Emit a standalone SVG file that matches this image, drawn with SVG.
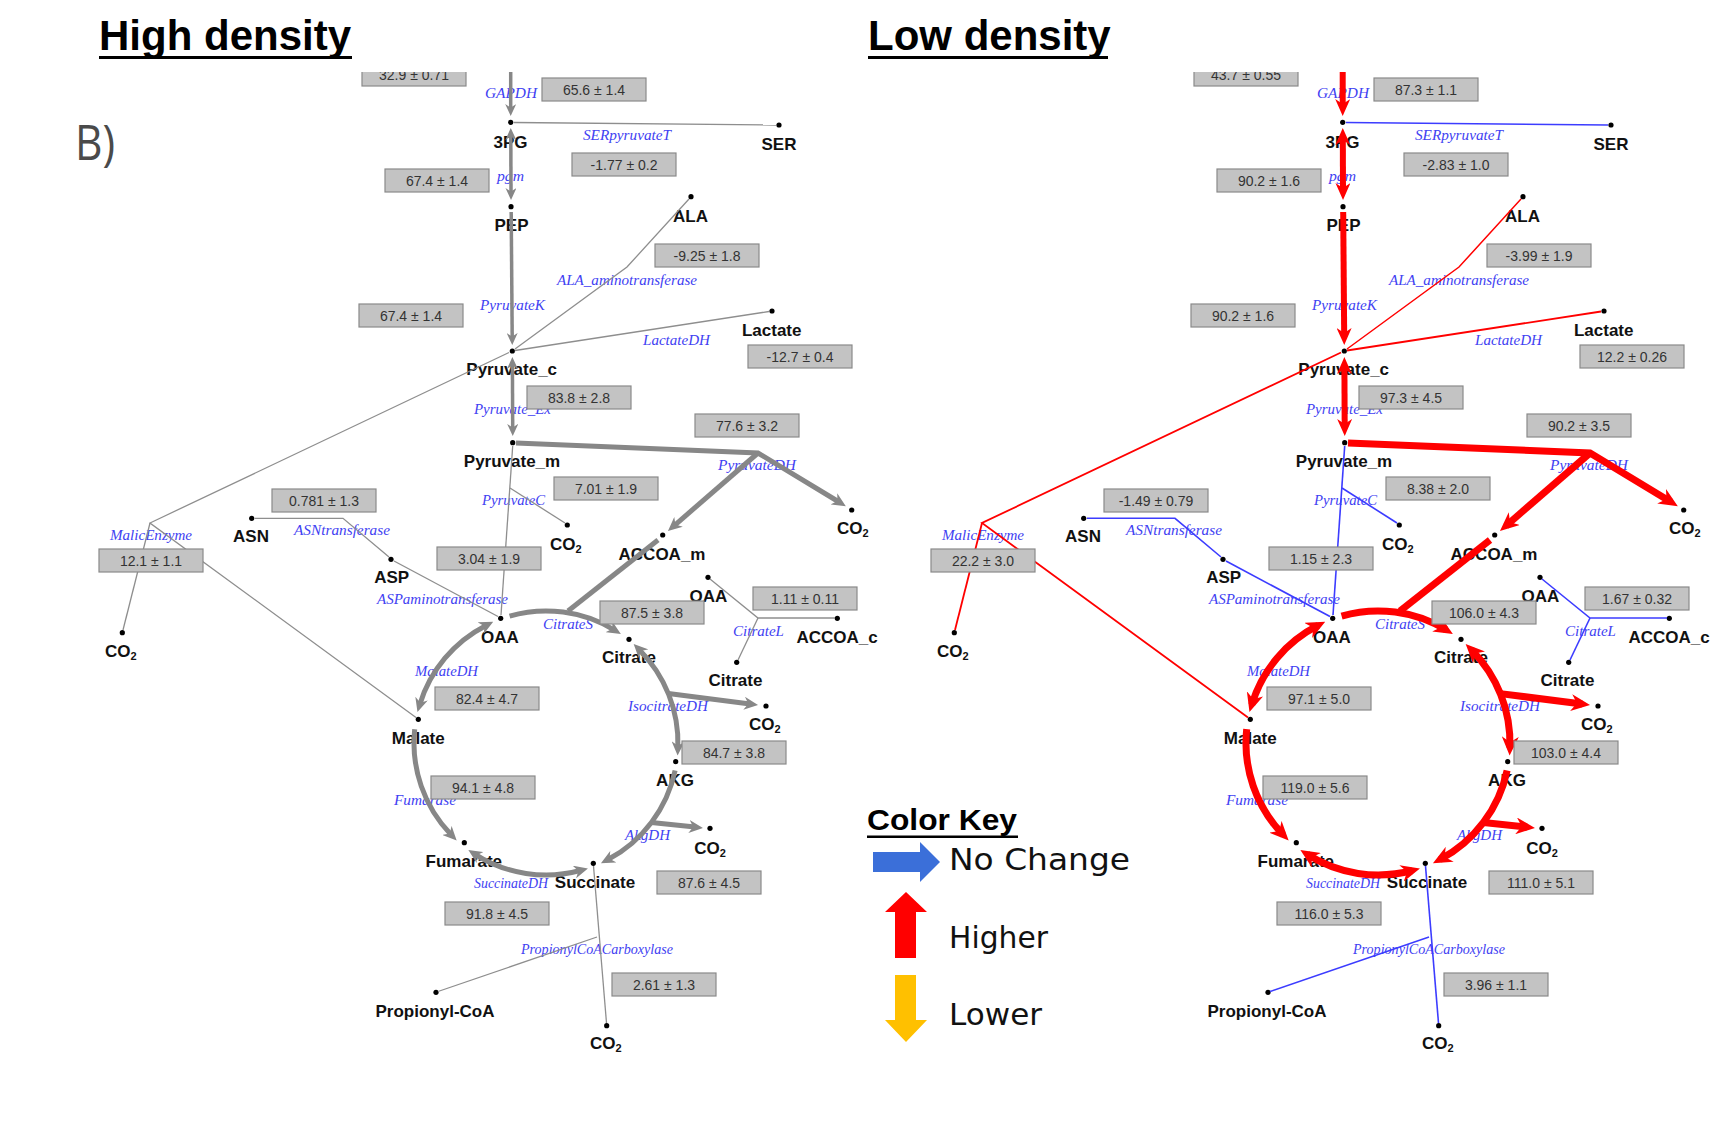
<svg xmlns="http://www.w3.org/2000/svg" width="1736" height="1130" viewBox="0 0 1736 1130">
<style>
.title{font-family:"Liberation Sans",Arial,sans-serif;font-weight:bold;font-size:42px;fill:#000}
.met{font-family:"Liberation Sans",Arial,sans-serif;font-weight:bold;font-size:17px;fill:#111;text-anchor:middle}
.co2{font-family:"Liberation Sans",Arial,sans-serif;font-weight:bold;font-size:17px;fill:#111}
.sub{font-size:11px}
.enz{font-family:"Liberation Serif","Times New Roman",serif;font-style:italic;font-size:15px;fill:#4141f2}
.vbox{fill:#c3c3c3;stroke:#8a8a8a;stroke-width:1.2}
.val{font-family:"Liberation Sans",Arial,sans-serif;font-size:14px;fill:#333;text-anchor:middle}
.dot{fill:#000}
.gk{fill:none;stroke:#878787}
.gt{fill:none;stroke:#8e8e8e;stroke-width:1.3}
.rk{fill:none;stroke:#ff0000}
.rt{fill:none;stroke:#ff0000;stroke-width:1.8}
.bt{fill:none;stroke:#3c3cff;stroke-width:1.6}
.w1{stroke-width:3.5}.w2{stroke-width:5}.w3{stroke-width:6}.w4{stroke-width:7}
.legend{font-family:"DejaVu Sans",Verdana,sans-serif;font-size:30px;fill:#111}
</style>
<defs>
<clipPath id="topclip" clipPathUnits="userSpaceOnUse"><rect x="0" y="72" width="1736" height="1058"/></clipPath>
<marker id="aG1" viewBox="0 0 10 10" markerUnits="userSpaceOnUse" markerWidth="12" markerHeight="11" refX="3.33" refY="5" orient="auto-start-reverse" preserveAspectRatio="none"><path d="M0,0 L10,5 L0,10 L3,5 z" fill="#878787"/></marker>
<marker id="aG2" viewBox="0 0 10 10" markerUnits="userSpaceOnUse" markerWidth="14" markerHeight="13" refX="4.29" refY="5" orient="auto-start-reverse" preserveAspectRatio="none"><path d="M0,0 L10,5 L0,10 L3,5 z" fill="#878787"/></marker>
<marker id="aR1" viewBox="0 0 10 10" markerUnits="userSpaceOnUse" markerWidth="17" markerHeight="15" refX="5.29" refY="5" orient="auto-start-reverse" preserveAspectRatio="none"><path d="M0,0 L10,5 L0,10 L3,5 z" fill="#ff0000"/></marker>
<marker id="aR2" viewBox="0 0 10 10" markerUnits="userSpaceOnUse" markerWidth="19" markerHeight="17" refX="5.79" refY="5" orient="auto-start-reverse" preserveAspectRatio="none"><path d="M0,0 L10,5 L0,10 L3,5 z" fill="#ff0000"/></marker>
</defs>
<rect width="1736" height="1130" fill="#fff"/>

<g id="titles">
<text class="title" x="99" y="50">High density</text>
<rect x="99" y="56" width="253" height="3" fill="#000"/>
<text class="title" x="868" y="50">Low density</text>
<rect x="868" y="56" width="240" height="3" fill="#000"/>
<text x="75" y="160" font-family="'Open Sans','Liberation Sans',sans-serif" font-size="50" fill="#4a4a4a" textLength="40" lengthAdjust="spacingAndGlyphs">B)</text>
</g>

<!-- ================= HIGH DENSITY ================= -->
<g id="high-density">
<g id="hd-enzymes">
<text class="enz" x="485" y="98" textLength="52" lengthAdjust="spacingAndGlyphs">GAPDH</text>
<text class="enz" x="583" y="140" textLength="88" lengthAdjust="spacingAndGlyphs">SERpyruvateT</text>
<text class="enz" x="497" y="181" textLength="27" lengthAdjust="spacingAndGlyphs">pgm</text>
<text class="enz" x="557" y="285" textLength="140" lengthAdjust="spacingAndGlyphs">ALA_aminotransferase</text>
<text class="enz" x="480" y="310" textLength="65" lengthAdjust="spacingAndGlyphs">PyruvateK</text>
<text class="enz" x="643" y="345" textLength="67" lengthAdjust="spacingAndGlyphs">LactateDH</text>
<text class="enz" x="474" y="414" textLength="77" lengthAdjust="spacingAndGlyphs">Pyruvate_Ex</text>
<text class="enz" x="718" y="470" textLength="78" lengthAdjust="spacingAndGlyphs">PyruvateDH</text>
<text class="enz" x="482" y="505" textLength="63" lengthAdjust="spacingAndGlyphs">PyruvateC</text>
<text class="enz" x="110" y="540" textLength="82" lengthAdjust="spacingAndGlyphs">MalicEnzyme</text>
<text class="enz" x="294" y="535" textLength="96" lengthAdjust="spacingAndGlyphs">ASNtransferase</text>
<text class="enz" x="377" y="604" textLength="131" lengthAdjust="spacingAndGlyphs">ASPaminotransferase</text>
<text class="enz" x="543" y="629" textLength="50" lengthAdjust="spacingAndGlyphs">CitrateS</text>
<text class="enz" x="733" y="636" textLength="51" lengthAdjust="spacingAndGlyphs">CitrateL</text>
<text class="enz" x="415" y="676" textLength="63" lengthAdjust="spacingAndGlyphs">MalateDH</text>
<text class="enz" x="628" y="711" textLength="80" lengthAdjust="spacingAndGlyphs">IsocitrateDH</text>
<text class="enz" x="394" y="805" textLength="62" lengthAdjust="spacingAndGlyphs">Fumarase</text>
<text class="enz" x="625" y="840" textLength="45" lengthAdjust="spacingAndGlyphs">AkgDH</text>
<text class="enz" x="474" y="888" textLength="74" lengthAdjust="spacingAndGlyphs">SuccinateDH</text>
<text class="enz" x="521" y="954" textLength="152" lengthAdjust="spacingAndGlyphs">PropionylCoACarboxylase</text>
</g>
<g id="hd-nodes">
<g id="hd-3PG"><circle class="dot" cx="510.7" cy="122.3" r="2.6"/><text class="met" x="510.5" y="147.5">3PG</text></g>
<g id="hd-SER"><circle class="dot" cx="779" cy="125" r="2.6"/><text class="met" x="779" y="149.5">SER</text></g>
<g id="hd-PEP"><circle class="dot" cx="511" cy="206.7" r="2.6"/><text class="met" x="511.5" y="230.5">PEP</text></g>
<g id="hd-ALA"><circle class="dot" cx="691" cy="196.7" r="2.6"/><text class="met" x="690.5" y="221.5">ALA</text></g>
<g id="hd-Pyruvate_c"><circle class="dot" cx="512.3" cy="351" r="2.6"/><text class="met" x="511.7" y="375">Pyruvate_c</text></g>
<g id="hd-Lactate"><circle class="dot" cx="772" cy="311" r="2.6"/><text class="met" x="771.7" y="335.5">Lactate</text></g>
<g id="hd-Pyruvate_m"><circle class="dot" cx="512.7" cy="442.7" r="2.6"/><text class="met" x="512" y="466.5">Pyruvate_m</text></g>
<g id="hd-CO2-pdh"><circle class="dot" cx="851.7" cy="510" r="2.6"/><text class="co2" x="837" y="534">CO<tspan class="sub" dy="3">2</tspan></text></g>
<g id="hd-CO2-pc"><circle class="dot" cx="567.3" cy="525" r="2.6"/><text class="co2" x="550" y="549.5">CO<tspan class="sub" dy="3">2</tspan></text></g>
<g id="hd-ACCOA_m"><circle class="dot" cx="662.7" cy="535" r="2.6"/><text class="met" x="662" y="560">ACCOA_m</text></g>
<g id="hd-OAA-c"><circle class="dot" cx="708" cy="577.3" r="2.6"/><text class="met" x="708.5" y="601.5">OAA</text></g>
<g id="hd-ACCOA_c"><circle class="dot" cx="837.3" cy="618.3" r="2.6"/><text class="met" x="837" y="643">ACCOA_c</text></g>
<g id="hd-Citrate-c"><circle class="dot" cx="736.7" cy="662.3" r="2.6"/><text class="met" x="735.5" y="686">Citrate</text></g>
<g id="hd-ASN"><circle class="dot" cx="251.7" cy="518.3" r="2.6"/><text class="met" x="251" y="541.5">ASN</text></g>
<g id="hd-ASP"><circle class="dot" cx="391" cy="559.3" r="2.6"/><text class="met" x="391.7" y="583">ASP</text></g>
<g id="hd-CO2-me"><circle class="dot" cx="122.3" cy="632.7" r="2.6"/><text class="co2" x="105" y="657">CO<tspan class="sub" dy="3">2</tspan></text></g>
<g id="hd-OAA"><circle class="dot" cx="500.7" cy="618.3" r="2.6"/><text class="met" x="500" y="643">OAA</text></g>
<g id="hd-Citrate"><circle class="dot" cx="629" cy="639.3" r="2.6"/><text class="met" x="629" y="663">Citrate</text></g>
<g id="hd-CO2-idh"><circle class="dot" cx="766" cy="706" r="2.6"/><text class="co2" x="749" y="730">CO<tspan class="sub" dy="3">2</tspan></text></g>
<g id="hd-Malate"><circle class="dot" cx="418.3" cy="719.3" r="2.6"/><text class="met" x="418.3" y="744">Malate</text></g>
<g id="hd-AKG"><circle class="dot" cx="675.7" cy="761.7" r="2.6"/><text class="met" x="675" y="786">AKG</text></g>
<g id="hd-CO2-akg"><circle class="dot" cx="710" cy="828.3" r="2.6"/><text class="co2" x="694.3" y="854">CO<tspan class="sub" dy="3">2</tspan></text></g>
<g id="hd-Fumarate"><circle class="dot" cx="464.3" cy="842.7" r="2.6"/><text class="met" x="463.8" y="866.5">Fumarate</text></g>
<g id="hd-Succinate"><circle class="dot" cx="593.3" cy="863.3" r="2.6"/><text class="met" x="595" y="888">Succinate</text></g>
<g id="hd-Propionyl-CoA"><circle class="dot" cx="436" cy="992.3" r="2.6"/><text class="met" x="435" y="1016.5">Propionyl-CoA</text></g>
<g id="hd-CO2-ppc"><circle class="dot" cx="606.7" cy="1025.7" r="2.6"/><text class="co2" x="590" y="1049">CO<tspan class="sub" dy="3">2</tspan></text></g>
</g>
<g id="hd-connectors">
<path class="gk w1" d="M510.7,72 L510.7,108" marker-end="url(#aG1)"/>
<path class="gk w1" d="M510.8,136 L511,192" marker-start="url(#aG1)" marker-end="url(#aG1)"/>
<path class="gk w1" d="M511.2,212 L512.2,337" marker-end="url(#aG1)"/>
<path class="gk w1" d="M512.4,365 L512.7,428" marker-start="url(#aG1)" marker-end="url(#aG1)"/>
<path class="gt" d="M514,122.5 L776,125"/>
<path class="gt" d="M515,349 L627,267 L689,199"/>
<path class="gt" d="M515,350.5 L769,311.5"/>
<path class="gk w2" d="M516,443 L758,453 L839,502" marker-end="url(#aG2)"/>
<path class="gk w2" d="M758,453 L674,525.8" marker-end="url(#aG2)"/>
<path class="gt" d="M512.7,446 L501,615"/>
<path class="gt" d="M510,488 L565,523"/>
<path class="gt" d="M255,518.3 L343,518.3 L389,557"/>
<path class="gt" d="M394,561 L498,616.5"/>
<path class="gt" d="M509,352.5 L150,523 L416,717.5"/>
<path class="gt" d="M150,523 L123,630"/>
<path class="gt" d="M710,579 L758,618 L835,618"/>
<path class="gt" d="M758,618 L738,660"/>
<path class="gk w2" d="M658,540 L568,611"/>
<path class="gk w2" d="M509.6,616.1 A132,132 0 0 1 614,629.8" marker-end="url(#aG2)"/>
<path class="gk w2" d="M639.3,649.7 A132,132 0 0 1 677.9,747.6" marker-start="url(#aG2)" marker-end="url(#aG2)"/>
<path class="gk w2" d="M675.1,770.4 A132,132 0 0 1 608,859.5" marker-end="url(#aG2)"/>
<path class="gk w2" d="M580.2,870.5 A132,132 0 0 1 475.1,854.3" marker-start="url(#aG2)" marker-end="url(#aG2)"/>
<path class="gk w2" d="M414.7,729.2 A132,132 0 0 0 451.1,834.7" marker-end="url(#aG2)"/>
<path class="gk w2" d="M486.1,625.4 A132,132 0 0 0 419.8,704.4" marker-start="url(#aG2)" marker-end="url(#aG2)"/>
<path class="gk w2" d="M668.4,693.6 L750.1,704" marker-end="url(#aG2)"/>
<path class="gk w2" d="M651.4,822.4 L695,827.1" marker-end="url(#aG2)"/>
<path class="gt" d="M593.5,866 L606.5,1023"/>
<path class="gt" d="M438,991.5 L597,937"/>
</g>
<g id="hd-fluxes">
<g clip-path="url(#topclip)"><rect class="vbox" x="362" y="63" width="104" height="23"/><text class="val" x="414" y="79.5">32.9 ± 0.71</text></g>
<rect class="vbox" x="542" y="78" width="104" height="23"/><text class="val" x="594" y="94.5">65.6 ± 1.4</text>
<rect class="vbox" x="572" y="153" width="104" height="23"/><text class="val" x="624" y="169.5">-1.77 ± 0.2</text>
<rect class="vbox" x="385" y="169" width="104" height="23"/><text class="val" x="437" y="185.5">67.4 ± 1.4</text>
<rect class="vbox" x="655" y="244" width="104" height="23"/><text class="val" x="707" y="260.5">-9.25 ± 1.8</text>
<rect class="vbox" x="359" y="304" width="104" height="23"/><text class="val" x="411" y="320.5">67.4 ± 1.4</text>
<rect class="vbox" x="748" y="345" width="104" height="23"/><text class="val" x="800" y="361.5">-12.7 ± 0.4</text>
<rect class="vbox" x="527" y="386" width="104" height="23"/><text class="val" x="579" y="402.5">83.8 ± 2.8</text>
<rect class="vbox" x="695" y="414" width="104" height="23"/><text class="val" x="747" y="430.5">77.6 ± 3.2</text>
<rect class="vbox" x="554" y="477" width="104" height="23"/><text class="val" x="606" y="493.5">7.01 ± 1.9</text>
<rect class="vbox" x="272" y="489" width="104" height="23"/><text class="val" x="324" y="505.5">0.781 ± 1.3</text>
<rect class="vbox" x="99" y="549" width="104" height="23"/><text class="val" x="151" y="565.5">12.1 ± 1.1</text>
<rect class="vbox" x="437" y="547" width="104" height="23"/><text class="val" x="489" y="563.5">3.04 ± 1.9</text>
<rect class="vbox" x="600" y="601" width="104" height="23"/><text class="val" x="652" y="617.5">87.5 ± 3.8</text>
<rect class="vbox" x="753" y="587" width="104" height="23"/><text class="val" x="805" y="603.5">1.11 ± 0.11</text>
<rect class="vbox" x="435" y="687" width="104" height="23"/><text class="val" x="487" y="703.5">82.4 ± 4.7</text>
<rect class="vbox" x="682" y="741" width="104" height="23"/><text class="val" x="734" y="757.5">84.7 ± 3.8</text>
<rect class="vbox" x="431" y="776" width="104" height="23"/><text class="val" x="483" y="792.5">94.1 ± 4.8</text>
<rect class="vbox" x="657" y="871" width="104" height="23"/><text class="val" x="709" y="887.5">87.6 ± 4.5</text>
<rect class="vbox" x="445" y="902" width="104" height="23"/><text class="val" x="497" y="918.5">91.8 ± 4.5</text>
<rect class="vbox" x="612" y="973" width="104" height="23"/><text class="val" x="664" y="989.5">2.61 ± 1.3</text>
</g>
</g>

<!-- ================= LOW DENSITY ================= -->
<g id="low-density" transform="translate(832,0)">
<g id="ld-enzymes">
<text class="enz" x="485" y="98" textLength="52" lengthAdjust="spacingAndGlyphs">GAPDH</text>
<text class="enz" x="583" y="140" textLength="88" lengthAdjust="spacingAndGlyphs">SERpyruvateT</text>
<text class="enz" x="497" y="181" textLength="27" lengthAdjust="spacingAndGlyphs">pgm</text>
<text class="enz" x="557" y="285" textLength="140" lengthAdjust="spacingAndGlyphs">ALA_aminotransferase</text>
<text class="enz" x="480" y="310" textLength="65" lengthAdjust="spacingAndGlyphs">PyruvateK</text>
<text class="enz" x="643" y="345" textLength="67" lengthAdjust="spacingAndGlyphs">LactateDH</text>
<text class="enz" x="474" y="414" textLength="77" lengthAdjust="spacingAndGlyphs">Pyruvate_Ex</text>
<text class="enz" x="718" y="470" textLength="78" lengthAdjust="spacingAndGlyphs">PyruvateDH</text>
<text class="enz" x="482" y="505" textLength="63" lengthAdjust="spacingAndGlyphs">PyruvateC</text>
<text class="enz" x="110" y="540" textLength="82" lengthAdjust="spacingAndGlyphs">MalicEnzyme</text>
<text class="enz" x="294" y="535" textLength="96" lengthAdjust="spacingAndGlyphs">ASNtransferase</text>
<text class="enz" x="377" y="604" textLength="131" lengthAdjust="spacingAndGlyphs">ASPaminotransferase</text>
<text class="enz" x="543" y="629" textLength="50" lengthAdjust="spacingAndGlyphs">CitrateS</text>
<text class="enz" x="733" y="636" textLength="51" lengthAdjust="spacingAndGlyphs">CitrateL</text>
<text class="enz" x="415" y="676" textLength="63" lengthAdjust="spacingAndGlyphs">MalateDH</text>
<text class="enz" x="628" y="711" textLength="80" lengthAdjust="spacingAndGlyphs">IsocitrateDH</text>
<text class="enz" x="394" y="805" textLength="62" lengthAdjust="spacingAndGlyphs">Fumarase</text>
<text class="enz" x="625" y="840" textLength="45" lengthAdjust="spacingAndGlyphs">AkgDH</text>
<text class="enz" x="474" y="888" textLength="74" lengthAdjust="spacingAndGlyphs">SuccinateDH</text>
<text class="enz" x="521" y="954" textLength="152" lengthAdjust="spacingAndGlyphs">PropionylCoACarboxylase</text>
</g>
<g id="ld-nodes">
<g id="ld-3PG"><circle class="dot" cx="510.7" cy="122.3" r="2.6"/><text class="met" x="510.5" y="147.5">3PG</text></g>
<g id="ld-SER"><circle class="dot" cx="779" cy="125" r="2.6"/><text class="met" x="779" y="149.5">SER</text></g>
<g id="ld-PEP"><circle class="dot" cx="511" cy="206.7" r="2.6"/><text class="met" x="511.5" y="230.5">PEP</text></g>
<g id="ld-ALA"><circle class="dot" cx="691" cy="196.7" r="2.6"/><text class="met" x="690.5" y="221.5">ALA</text></g>
<g id="ld-Pyruvate_c"><circle class="dot" cx="512.3" cy="351" r="2.6"/><text class="met" x="511.7" y="375">Pyruvate_c</text></g>
<g id="ld-Lactate"><circle class="dot" cx="772" cy="311" r="2.6"/><text class="met" x="771.7" y="335.5">Lactate</text></g>
<g id="ld-Pyruvate_m"><circle class="dot" cx="512.7" cy="442.7" r="2.6"/><text class="met" x="512" y="466.5">Pyruvate_m</text></g>
<g id="ld-CO2-pdh"><circle class="dot" cx="851.7" cy="510" r="2.6"/><text class="co2" x="837" y="534">CO<tspan class="sub" dy="3">2</tspan></text></g>
<g id="ld-CO2-pc"><circle class="dot" cx="567.3" cy="525" r="2.6"/><text class="co2" x="550" y="549.5">CO<tspan class="sub" dy="3">2</tspan></text></g>
<g id="ld-ACCOA_m"><circle class="dot" cx="662.7" cy="535" r="2.6"/><text class="met" x="662" y="560">ACCOA_m</text></g>
<g id="ld-OAA-c"><circle class="dot" cx="708" cy="577.3" r="2.6"/><text class="met" x="708.5" y="601.5">OAA</text></g>
<g id="ld-ACCOA_c"><circle class="dot" cx="837.3" cy="618.3" r="2.6"/><text class="met" x="837" y="643">ACCOA_c</text></g>
<g id="ld-Citrate-c"><circle class="dot" cx="736.7" cy="662.3" r="2.6"/><text class="met" x="735.5" y="686">Citrate</text></g>
<g id="ld-ASN"><circle class="dot" cx="251.7" cy="518.3" r="2.6"/><text class="met" x="251" y="541.5">ASN</text></g>
<g id="ld-ASP"><circle class="dot" cx="391" cy="559.3" r="2.6"/><text class="met" x="391.7" y="583">ASP</text></g>
<g id="ld-CO2-me"><circle class="dot" cx="122.3" cy="632.7" r="2.6"/><text class="co2" x="105" y="657">CO<tspan class="sub" dy="3">2</tspan></text></g>
<g id="ld-OAA"><circle class="dot" cx="500.7" cy="618.3" r="2.6"/><text class="met" x="500" y="643">OAA</text></g>
<g id="ld-Citrate"><circle class="dot" cx="629" cy="639.3" r="2.6"/><text class="met" x="629" y="663">Citrate</text></g>
<g id="ld-CO2-idh"><circle class="dot" cx="766" cy="706" r="2.6"/><text class="co2" x="749" y="730">CO<tspan class="sub" dy="3">2</tspan></text></g>
<g id="ld-Malate"><circle class="dot" cx="418.3" cy="719.3" r="2.6"/><text class="met" x="418.3" y="744">Malate</text></g>
<g id="ld-AKG"><circle class="dot" cx="675.7" cy="761.7" r="2.6"/><text class="met" x="675" y="786">AKG</text></g>
<g id="ld-CO2-akg"><circle class="dot" cx="710" cy="828.3" r="2.6"/><text class="co2" x="694.3" y="854">CO<tspan class="sub" dy="3">2</tspan></text></g>
<g id="ld-Fumarate"><circle class="dot" cx="464.3" cy="842.7" r="2.6"/><text class="met" x="463.8" y="866.5">Fumarate</text></g>
<g id="ld-Succinate"><circle class="dot" cx="593.3" cy="863.3" r="2.6"/><text class="met" x="595" y="888">Succinate</text></g>
<g id="ld-Propionyl-CoA"><circle class="dot" cx="436" cy="992.3" r="2.6"/><text class="met" x="435" y="1016.5">Propionyl-CoA</text></g>
<g id="ld-CO2-ppc"><circle class="dot" cx="606.7" cy="1025.7" r="2.6"/><text class="co2" x="590" y="1049">CO<tspan class="sub" dy="3">2</tspan></text></g>
</g>
<g id="ld-connectors">
<path class="rk w3" d="M510.7,72 L510.7,108" marker-end="url(#aR1)"/>
<path class="rk w3" d="M510.8,136 L511,192" marker-start="url(#aR1)" marker-end="url(#aR1)"/>
<path class="rk w3" d="M511.2,212 L512.2,337" marker-end="url(#aR1)"/>
<path class="rk w3" d="M512.4,365 L512.7,428" marker-start="url(#aR1)" marker-end="url(#aR1)"/>
<path class="bt" d="M514,122.5 L776,125"/>
<path class="rt" style="stroke-width:1.5" d="M515,349 L627,267 L689,199"/>
<path class="rt" d="M515,350.5 L769,311.5"/>
<path class="rk w4" d="M516,443 L758,453 L839,502" marker-end="url(#aR2)"/>
<path class="rk w4" d="M758,453 L674,525.8" marker-end="url(#aR2)"/>
<path class="bt" d="M512.7,446 L501,615"/>
<path class="bt" d="M510,488 L565,523"/>
<path class="bt" d="M255,518.3 L343,518.3 L389,557"/>
<path class="bt" d="M394,561 L498,616.5"/>
<path class="rt" d="M509,352.5 L150,523 L416,717.5"/>
<path class="rt" d="M150,523 L123,630"/>
<path class="bt" d="M710,579 L758,618 L835,618"/>
<path class="bt" d="M758,618 L738,660"/>
<path class="rk w4" d="M658,540 L568,611"/>
<path class="rk w4" d="M509.6,616.1 A132,132 0 0 1 614,629.8" marker-end="url(#aR2)"/>
<path class="rk w4" d="M639.3,649.7 A132,132 0 0 1 677.9,747.6" marker-start="url(#aR2)" marker-end="url(#aR2)"/>
<path class="rk w4" d="M675.1,770.4 A132,132 0 0 1 608,859.5" marker-end="url(#aR2)"/>
<path class="rk w4" d="M580.2,870.5 A132,132 0 0 1 475.1,854.3" marker-start="url(#aR2)" marker-end="url(#aR2)"/>
<path class="rk w4" d="M414.7,729.2 A132,132 0 0 0 451.1,834.7" marker-end="url(#aR2)"/>
<path class="rk w4" d="M486.1,625.4 A132,132 0 0 0 419.8,704.4" marker-start="url(#aR2)" marker-end="url(#aR2)"/>
<path class="rk w4" d="M668.4,693.6 L750.1,704" marker-end="url(#aR2)"/>
<path class="rk w4" d="M651.4,822.4 L695,827.1" marker-end="url(#aR2)"/>
<path class="bt" d="M593.5,866 L606.5,1023"/>
<path class="bt" d="M438,991.5 L597,937"/>
</g>
<g id="ld-fluxes">
<g clip-path="url(#topclip)"><rect class="vbox" x="362" y="63" width="104" height="23"/><text class="val" x="414" y="79.5">43.7 ± 0.55</text></g>
<rect class="vbox" x="542" y="78" width="104" height="23"/><text class="val" x="594" y="94.5">87.3 ± 1.1</text>
<rect class="vbox" x="572" y="153" width="104" height="23"/><text class="val" x="624" y="169.5">-2.83 ± 1.0</text>
<rect class="vbox" x="385" y="169" width="104" height="23"/><text class="val" x="437" y="185.5">90.2 ± 1.6</text>
<rect class="vbox" x="655" y="244" width="104" height="23"/><text class="val" x="707" y="260.5">-3.99 ± 1.9</text>
<rect class="vbox" x="359" y="304" width="104" height="23"/><text class="val" x="411" y="320.5">90.2 ± 1.6</text>
<rect class="vbox" x="748" y="345" width="104" height="23"/><text class="val" x="800" y="361.5">12.2 ± 0.26</text>
<rect class="vbox" x="527" y="386" width="104" height="23"/><text class="val" x="579" y="402.5">97.3 ± 4.5</text>
<rect class="vbox" x="695" y="414" width="104" height="23"/><text class="val" x="747" y="430.5">90.2 ± 3.5</text>
<rect class="vbox" x="554" y="477" width="104" height="23"/><text class="val" x="606" y="493.5">8.38 ± 2.0</text>
<rect class="vbox" x="272" y="489" width="104" height="23"/><text class="val" x="324" y="505.5">-1.49 ± 0.79</text>
<rect class="vbox" x="99" y="549" width="104" height="23"/><text class="val" x="151" y="565.5">22.2 ± 3.0</text>
<rect class="vbox" x="437" y="547" width="104" height="23"/><text class="val" x="489" y="563.5">1.15 ± 2.3</text>
<rect class="vbox" x="600" y="601" width="104" height="23"/><text class="val" x="652" y="617.5">106.0 ± 4.3</text>
<rect class="vbox" x="753" y="587" width="104" height="23"/><text class="val" x="805" y="603.5">1.67 ± 0.32</text>
<rect class="vbox" x="435" y="687" width="104" height="23"/><text class="val" x="487" y="703.5">97.1 ± 5.0</text>
<rect class="vbox" x="682" y="741" width="104" height="23"/><text class="val" x="734" y="757.5">103.0 ± 4.4</text>
<rect class="vbox" x="431" y="776" width="104" height="23"/><text class="val" x="483" y="792.5">119.0 ± 5.6</text>
<rect class="vbox" x="657" y="871" width="104" height="23"/><text class="val" x="709" y="887.5">111.0 ± 5.1</text>
<rect class="vbox" x="445" y="902" width="104" height="23"/><text class="val" x="497" y="918.5">116.0 ± 5.3</text>
<rect class="vbox" x="612" y="973" width="104" height="23"/><text class="val" x="664" y="989.5">3.96 ± 1.1</text>
</g>
</g>

<g id="color-key">
<text x="867" y="830" font-family="'Liberation Sans',Arial,sans-serif" font-weight="bold" font-size="30" fill="#000" textLength="150" lengthAdjust="spacingAndGlyphs">Color Key</text>
<rect x="867" y="835.5" width="151" height="2.5" fill="#000"/>
<polygon points="873,852 920,852 920,842 940,862 920,882 920,872 873,872" fill="#3b6fd9"/>
<text class="legend" x="949" y="870" textLength="181" lengthAdjust="spacingAndGlyphs">No Change</text>
<polygon points="906,892 927,912 916,912 916,958 895,958 895,912 885,912" fill="#ff0000"/>
<text class="legend" x="949" y="948" textLength="99" lengthAdjust="spacingAndGlyphs">Higher</text>
<polygon points="895,975 916,975 916,1020 927,1020 906,1042 885,1020 895,1020" fill="#ffc000"/>
<text class="legend" x="949" y="1025" textLength="93" lengthAdjust="spacingAndGlyphs">Lower</text>
</g>
</svg>
